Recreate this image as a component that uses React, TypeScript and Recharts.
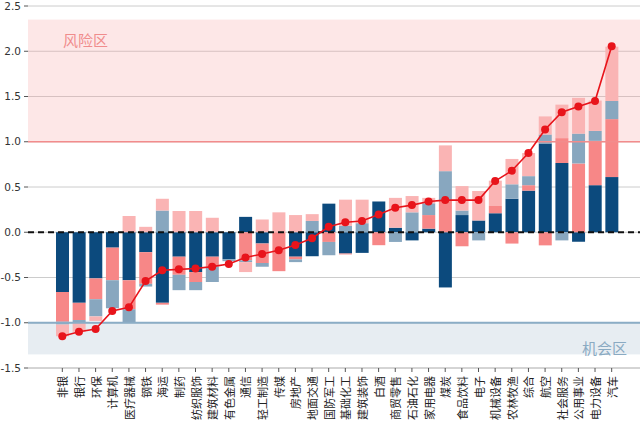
import React from 'react';
import * as R from 'recharts';
import {
  ComposedChart, Bar, Line, XAxis, YAxis, CartesianGrid, ReferenceLine, ReferenceArea,
} from 'recharts';

const categories = ['非银','银行','环保','计算机','医疗器械','钢铁','海运','制药','纺织服饰','建筑材料','有色金属','通信','轻工制造','传媒','房地产','地面交通','国防军工','基础化工','建筑装饰','白酒','商贸零售','石油石化','家用电器','煤炭','食品饮料','电子','机械设备','农林牧渔','综合','航空','社会服务','公用事业','电力设备','汽车'];

const seriesA = [-0.66,-0.78,-0.51,-0.17,-0.53,-0.22,-0.78,-0.27,-0.44,-0.27,-0.30,0.17,-0.125,0,-0.27,-0.265,0.316,-0.235,-0.228,0.34,0.05,-0.09,0.04,-0.61,0.19,0.13,0.21,0.37,0.46,0.98,0.765,-0.105,0.52,0.61];
const seriesB = [-0.33,-0.19,-0.23,-0.36,-0.32,-0.35,-0.02,-0.20,-0.11,-0.11,0,-0.31,-0.215,-0.43,-0.03,0,-0.107,-0.01,0,-0.143,0,0,0.15,0.35,-0.155,0,0.08,-0.125,0.06,-0.145,0.275,0.76,0.49,0.64];
const seriesC = [-0.03,-0.03,-0.19,-0.31,-0.15,-0.03,0.24,-0.17,-0.09,-0.17,-0.02,-0.02,-0.04,0,-0.03,0.125,-0.147,0.07,0.10,0,-0.107,0.22,0.13,0.325,0.05,-0.09,0,0.16,0.10,0.10,-0.09,0.33,0.11,0.20];
const seriesD = [-0.13,-0.10,-0.05,0,0.18,0.06,0.13,0.235,0.235,0.16,0,-0.11,0.14,0.22,0.19,0.075,0,0.29,0.26,0,0.33,0.18,0.06,0.285,0.27,0.326,0.28,0.28,0.255,0.20,0.37,0.395,0.335,0.60];
const totals = [-1.15,-1.10,-1.07,-0.87,-0.83,-0.54,-0.42,-0.41,-0.40,-0.38,-0.35,-0.28,-0.24,-0.20,-0.14,-0.066,0.06,0.11,0.125,0.195,0.27,0.30,0.34,0.355,0.355,0.355,0.566,0.68,0.875,1.135,1.326,1.39,1.45,2.055];

const yTicks = [-1.5,-1.0,-0.5,0,0.5,1.0,1.5,2.0,2.5];
const riskBand = [1.0, 2.35];
const chanceBand = [-1.35, -1.0];

const data = categories.map((name, i) => ({
  name, a: seriesA[i], b: seriesB[i], c: seriesC[i], d: seriesD[i], total: totals[i],
}));

const CJK = '"Noto Sans CJK SC", "Noto Sans", sans-serif';

const usePlotAreaHook: any = (R as any).usePlotArea;

function usePlot(fallbackX: number, fallbackW: number) {
  const pa = usePlotAreaHook ? usePlotAreaHook() : null;
  if (pa && typeof pa.x === 'number') return { x: pa.x, w: pa.width };
  return { x: fallbackX, w: fallbackW };
}

function FullBand(props: any) {
  const { y, height, fill, fillOpacity } = props;
  const p = usePlot(0, 640);
  return <rect x={p.x} y={y} width={p.w} height={height} fill={fill} fillOpacity={fillOpacity} stroke="none" />;
}

function FullLine(props: any) {
  const { y1, stroke, strokeWidth, strokeDasharray } = props;
  const p = usePlot(0, 640);
  return <line x1={p.x} x2={p.x + p.w} y1={y1} y2={y1} stroke={stroke} strokeWidth={strokeWidth} strokeDasharray={strokeDasharray} />;
}

function CatTick(props: any) {
  const { x, y, payload } = props;
  const yy = y + 2;
  return (
    <text x={x} y={yy} transform={`rotate(-90 ${x} ${yy})`} textAnchor="end" dominantBaseline="central"
      fontSize={11} fill="#222" fontFamily={CJK}>{payload.value}</text>
  );
}

function RiskLabel(props: any) {
  const vb = props.viewBox || {};
  const p = usePlot(0, 640);
  return (
    <text x={p.x + 35} y={vb.y + 26} fontSize={15} fill="#f08c8c" fontFamily={CJK}>风险区</text>
  );
}

function ChanceLabel(props: any) {
  const vb = props.viewBox || {};
  const p = usePlot(0, 640);
  return (
    <text x={p.x + p.w - 13} y={vb.y + vb.height} textAnchor="end" fontSize={15} fill="#8aaac2" fontFamily={CJK}>机会区</text>
  );
}

export default function App() {
  return (
    <div style={{ position: 'absolute', left: 0, top: 0, width: 640, height: 427, background: '#fff' }}>
      <ComposedChart width={640} height={427} data={data} stackOffset="sign"
        margin={{ top: 6, right: 0, bottom: 0, left: 0 }} barCategoryGap="12%">
        <ReferenceArea y1={riskBand[0]} y2={riskBand[1]} fill="#f9a0a0" fillOpacity={0.25} ifOverflow="visible"
          shape={<FullBand />} label={<RiskLabel />} />
        <ReferenceArea y1={chanceBand[0]} y2={chanceBand[1]} fill="#7b9bb8" fillOpacity={0.18} ifOverflow="visible"
          shape={<FullBand />} label={<ChanceLabel />} />
        <CartesianGrid vertical={false} stroke="#cccccc" strokeWidth={1} />
        <XAxis dataKey="name" type="category" interval={0} height={59} padding={{ left: 26, right: 20 }}
          tickSize={4} tick={<CatTick />} axisLine={{ stroke: '#c4c4c4' }} tickLine={{ stroke: '#555' }} />
        <YAxis domain={[-1.5, 2.5]} ticks={yTicks} width={28} tickSize={4} tickMargin={3} axisLine={false}
          tickLine={{ stroke: '#555' }} interval={0}
          tick={{ fontSize: 10.5, fill: '#333', fontFamily: '"DejaVu Sans", sans-serif' }}
          tickFormatter={(v: number) => v.toFixed(1)} />
        <Bar dataKey="a" stackId="s" fill="#0c4a7d" isAnimationActive={false} />
        <Bar dataKey="b" stackId="s" fill="#f78787" isAnimationActive={false} />
        <Bar dataKey="c" stackId="s" fill="#88a7bf" isAnimationActive={false} />
        <Bar dataKey="d" stackId="s" fill="#fab4b4" isAnimationActive={false} />
        <ReferenceLine y={1} stroke="#f28c8c" strokeWidth={1.5} ifOverflow="visible" shape={<FullLine />} />
        <ReferenceLine y={-1} stroke="#8badc6" strokeWidth={2} ifOverflow="visible" shape={<FullLine />} />
        <ReferenceLine y={0} stroke="#111" strokeWidth={1.8} strokeDasharray="6 4" ifOverflow="visible" shape={<FullLine />} />
        <Line dataKey="total" type="linear" stroke="#e8141b" strokeWidth={1.6}
          dot={{ r: 4, fill: '#e8141b', stroke: '#e8141b', strokeWidth: 0 }} isAnimationActive={false} />
      </ComposedChart>
    </div>
  );
}
